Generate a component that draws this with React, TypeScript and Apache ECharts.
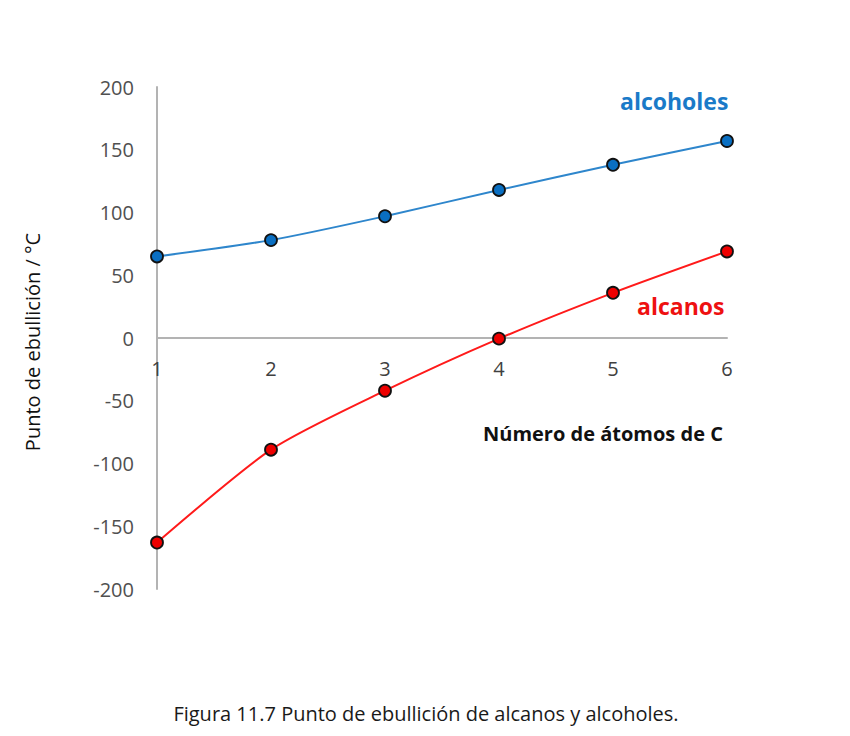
import React, { useEffect, useRef } from "react";
import * as echarts from "echarts";

const carbonAtoms = [1, 2, 3, 4, 5, 6];
const alcoholes = [65, 78, 97, 118, 138, 157];
const alcanos = [-163, -89, -42, -0.5, 36, 69];
const yTicks = { min: -200, max: 200, interval: 50 };

const FONT = "'Open Sans', 'Liberation Sans', sans-serif";

export default function App() {
  const ref = useRef<HTMLDivElement>(null);
  useEffect(() => {
    const chart = echarts.init(ref.current!, null, { renderer: "svg" });
    const pair = (ys: number[]) => carbonAtoms.map((x, i) => [x, ys[i]]);
    chart.setOption({
      animation: false,
      backgroundColor: "#ffffff",
      grid: { left: 157, right: 123, top: 87, bottom: 147 },
      xAxis: {
        type: "value",
        min: 1,
        max: 6,
        interval: 1,
        position: "bottom",
        offset: -251,
        axisLine: { onZero: false, lineStyle: { color: "#b3b3b3", width: 2 } },
        axisTick: { show: false },
        splitLine: { show: false },
        axisLabel: { color: "#404040", fontSize: 20, fontFamily: FONT, margin: 20 },
      },
      yAxis: {
        type: "value",
        min: yTicks.min,
        max: yTicks.max,
        interval: yTicks.interval,
        axisLine: { show: true, lineStyle: { color: "#b3b3b3", width: 2 } },
        axisTick: { show: false },
        splitLine: { show: false },
        axisLabel: { color: "#505050", fontSize: 20, fontFamily: FONT, margin: 23 },
      },
      series: [
        {
          name: "alcoholes",
          type: "line",
          smooth: 0.25,
          data: pair(alcoholes),
          symbol: "circle",
          symbolSize: 12,
          lineStyle: { color: "#2e86cc", width: 2 },
          itemStyle: { color: "#0a6fc2", borderColor: "#111111", borderWidth: 1.8 },
        },
        {
          name: "alcanos",
          type: "line",
          smooth: 0.25,
          data: pair(alcanos),
          symbol: "circle",
          symbolSize: 12,
          lineStyle: { color: "#ff1a1a", width: 2 },
          itemStyle: { color: "#ee0000", borderColor: "#111111", borderWidth: 1.8 },
        },
      ],
      graphic: [
        {
          type: "text",
          x: 620,
          y: 101,
          style: { text: "alcoholes", fill: "#1a7ac8", font: `bold 23px ${FONT}`, verticalAlign: "middle" },
        },
        {
          type: "text",
          x: 637,
          y: 306,
          style: { text: "alcanos", fill: "#ee1111", font: `bold 23px ${FONT}`, verticalAlign: "middle" },
        },
        {
          type: "text",
          x: 483,
          y: 433,
          style: { text: "Número de átomos de C", fill: "#111111", font: `bold 20px ${FONT}`, verticalAlign: "middle" },
        },
        {
          type: "text",
          x: 32,
          y: 342,
          rotation: Math.PI / 2,
          style: {
            text: "Punto de ebullición / °C",
            fill: "#111111",
            font: `20px ${FONT}`,
            align: "center",
            verticalAlign: "middle",
          },
        },
        {
          type: "text",
          x: 426,
          y: 713,
          style: {
            text: "Figura 11.7 Punto de ebullición de alcanos y alcoholes.",
            fill: "#1a1a1a",
            font: `20px ${FONT}`,
            align: "center",
            verticalAlign: "middle",
          },
        },
      ],
    });
    return () => chart.dispose();
  }, []);
  return <div ref={ref} style={{ width: 850, height: 736, position: "absolute", left: 0, top: 0 }} />;
}
